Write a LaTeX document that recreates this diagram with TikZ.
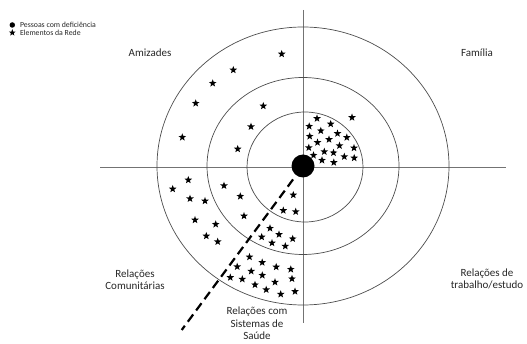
\documentclass[tikz,border=0pt]{standalone}
\usepackage{fontspec}
\setmainfont{Carlito}
\usetikzlibrary{shapes.geometric}

\begin{document}
\begin{tikzpicture}[x=1pt, y=-1pt, font=\fontsize{11}{12.5}\selectfont,
    estrela/.style={star, star points=5, star point ratio=2.4, fill=black,
      inner sep=0pt, minimum size=8pt},
    anel/.style={draw=black!70, line width=0.7pt},
    eixo/.style={draw=black!55, line width=0.8pt},
    rotulo/.style={align=center, text=black!85},
    legenda/.style={anchor=west, font=\fontsize{7.8}{9}\selectfont, text=black!85}]
  \useasboundingbox (0,0) rectangle (527,344);

  % Axes
  \coordinate (eixoO) at (100,167);
  \coordinate (eixoL) at (506,167);
  \coordinate (eixoN) at (303,10);
  \coordinate (eixoS) at (303,323);
  \draw[eixo] (eixoO) -- (eixoL);
  \draw[eixo] (eixoN) -- (eixoS);

  % Circles
  \draw[anel] (303,166) ellipse [x radius=146pt, y radius=139pt];
  \draw[anel] (303,166) ellipse [x radius=96pt, y radius=88.5pt];
  \draw[anel] (305,167) ellipse [x radius=58pt, y radius=55pt];

  % Person in the centre
  \node[circle, fill=black, minimum size=23pt, inner sep=0pt] (pessoa) at (303,166) {};

  % Health sector border
  \coordinate (fimsaude) at (181.7,330);
  \draw[line width=2.2pt, dash pattern=on 9pt off 5pt, shorten <=5pt] (pessoa) -- (fimsaude);

  % Stars: Amizades
  \foreach \x/\y [count=\i] in {281.7/54, 233.3/70, 212.7/83.3, 195.7/103.3,
      263.3/106, 251/126.7, 182.3/137.3, 237.7/149}
    \node[estrela] (ami\i) at (\x,\y) {};

  % Stars: Familia
  \foreach \x/\y [count=\i] in {317/118.5, 352/117.5, 309.2/126.3, 320.8/130.8,
      330.7/124, 309.7/136.3, 329/139.5, 337.5/133.5, 346.8/137.5, 317.5/142.5,
      308.8/147.7, 339.5/145.7, 354/148, 324.3/151.7, 333.5/152.8, 313.5/155.3,
      322/160.3, 344.3/156.7, 354.2/158, 333.8/162.5}
    \node[estrela] (fam\i) at (\x,\y) {};

  % Stars: Relacoes Comunitarias
  \foreach \x/\y [count=\i] in {188.3/180, 172.7/189, 224/185.7, 190/198.7,
      205/201, 240.3/196.3, 195/220, 215.7/224.3, 244/216, 206.3/236, 217.7/241.7}
    \node[estrela] (com\i) at (\x,\y) {};

  % Stars: Sistemas de Saude
  \foreach \x/\y [count=\i] in {293.3/195, 283.3/210.5, 295.7/211.7, 270/228.3,
      261.7/237, 279/234.5, 292.7/238.8, 272/243, 285.3/246.2, 249.5/257,
      262.2/262.5, 276.2/267, 290.8/269.3, 237.2/266.7, 251.2/271.2, 230.3/277.5,
      242.3/279.2, 262.3/275.3, 275/282.2, 292/278.8, 255/284.8, 266.2/289.7,
      280.7/294.2, 295/291.5}
    \node[estrela] (sau\i) at (\x,\y) {};

  % Labels
  \node[rotulo] (amizades) at (150,53) {Amizades};
  \node[rotulo] (familia) at (477,53) {Família};
  \node[rotulo] (trabalho) at (487,279) {Relações de\\trabalho/estudo};
  \node[rotulo] (comunidade) at (135,279.5) {Relações\\Comunitárias};
  \node[rotulo] (saude) at (257,323.5) {Relações com\\Sistemas de\\Saúde};

  % Legend
  \node[circle, fill=black, minimum size=5.5pt, inner sep=0pt] (legpessoa) at (12.3,25) {};
  \node[legenda] (txtpessoa) at (16.5,25) {Pessoas com deficiência};
  \node[estrela, minimum size=7pt] (legrede) at (12.3,32.7) {};
  \node[legenda] (txtrede) at (16.5,32.7) {Elementos da Rede};
\end{tikzpicture}
\end{document}
